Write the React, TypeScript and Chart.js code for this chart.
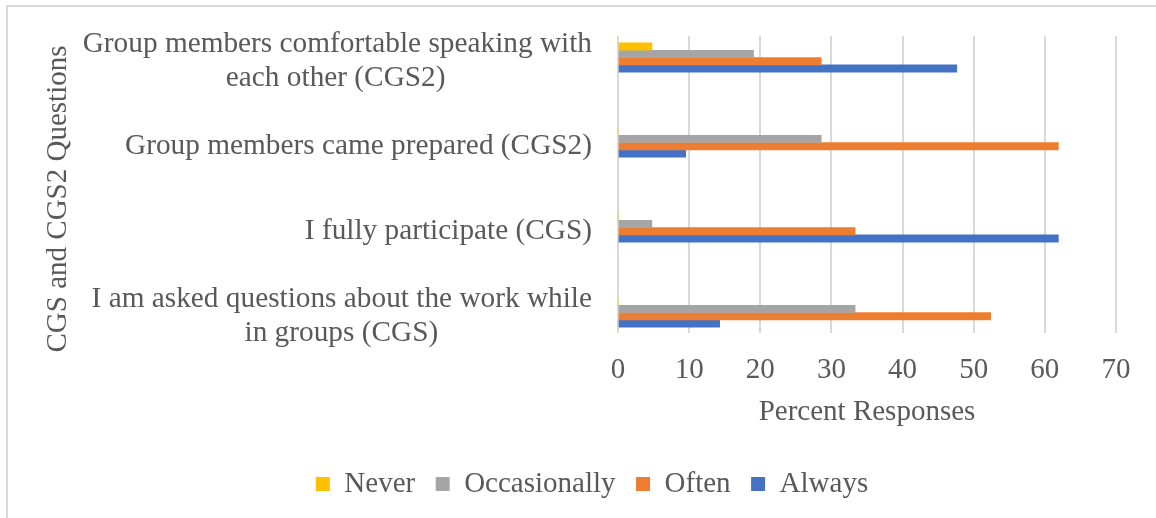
import React, { useEffect, useRef } from "react";
import { Chart, registerables } from "chart.js";

Chart.register(...registerables);

// ---- data ----
const CATEGORIES: string[][] = [
  ["Group members comfortable speaking with", "each other (CGS2)"],
  ["Group members came prepared (CGS2)"],
  ["I fully participate (CGS)"],
  ["I am asked questions about the work while", "in groups (CGS)"],
];
const SERIES_NAMES = ["Never", "Occasionally", "Often", "Always"];
const NEVER = [4.76, 0, 0, 0];
const OCCASIONALLY = [19.05, 28.57, 4.76, 33.33];
const OFTEN = [28.57, 61.9, 33.33, 52.38];
const ALWAYS = [47.62, 9.52, 61.9, 14.29];
const X_TICKS = [0, 10, 20, 30, 40, 50, 60, 70];
const X_TITLE = "Percent Responses";
const Y_TITLE = "CGS and CGS2 Questions";

// ---- styles ----
const COLORS = ["#FFC000", "#A5A5A5", "#ED7D31", "#4472C4"];
const TEXT = "#595959";
const GRID = "#D9D9D9";
const FAMILY = '"Liberation Serif", "Times New Roman", serif';
const FS = 29;
const FS_Y = 29.3;

function centerLines(lines: string[]): string[] {
  if (lines.length < 2) return lines;
  const ctx = document.createElement("canvas").getContext("2d");
  if (!ctx) return lines;
  ctx.font = `${FS_Y}px ${FAMILY}`;
  const widths = lines.map((l) => ctx.measureText(l).width);
  const maxW = Math.max(...widths);
  const sp = ctx.measureText(" ").width || 7;
  return lines.map(
    (l, i) => l + " ".repeat(Math.max(0, Math.round((maxW - widths[i]) / 2 / sp)))
  );
}

const legendShift = {
  id: "legendShift",
  afterLayout(chart: any) {
    const l = chart.legend;
    if (l) {
      l.left += 34;
      l.right += 34;
    }
  },
};

export default function App() {
  const ref = useRef<HTMLCanvasElement | null>(null);

  useEffect(() => {
    if (!ref.current) return;
    const labels = CATEGORIES.map((c) => centerLines(c));
    const seriesValues = [NEVER, OCCASIONALLY, OFTEN, ALWAYS];
    const font = { family: FAMILY, size: FS };

    const chart = new Chart(ref.current, {
      type: "bar",
      data: {
        datasets: SERIES_NAMES.map((name, si) => ({
          label: name,
          data: seriesValues[si].map((v, i) => ({ x: v, y: i })),
          backgroundColor: COLORS[si],
          borderWidth: 0,
          barThickness: 7.3,
        })),
      },
      options: {
        indexAxis: "y",
        animation: false,
        responsive: false,
        devicePixelRatio: 1,
        layout: { padding: { top: 36, right: 40, bottom: 9.5, left: 0 } },
        plugins: {
          tooltip: { enabled: false },
          legend: {
            position: "bottom",
            labels: {
              font,
              color: TEXT,
              boxWidth: 14,
              boxHeight: 14,
              padding: 20.5,
            },
          },
        },
        scales: {
          x: {
            type: "linear",
            min: 0,
            max: 70,
            afterBuildTicks: (s: any) => {
              s.ticks = X_TICKS.map((v) => ({ value: v }));
            },
            ticks: { font, color: TEXT, padding: 20 },
            grid: { color: GRID, lineWidth: 2, drawTicks: false },
            border: { display: false },
            title: {
              display: true,
              text: X_TITLE,
              font,
              color: TEXT,
              padding: { top: 0, bottom: 19 },
            },
            afterFit: (s: any) => {
              s.height = 116;
              s.paddingLeft = 0;
              s.paddingRight = 0;
            },
          },
          y: {
            type: "linear",
            offset: false,
            reverse: true,
            min: -0.253,
            max: 3.241,
            afterBuildTicks: (s: any) => {
              s.ticks = CATEGORIES.map((_, i) => ({ value: i }));
            },
            ticks: {
              autoSkip: false,
              font: { family: FAMILY, size: FS_Y, lineHeight: 1.15 },
              color: TEXT,
              padding: 26,
              labelOffset: 4,
              callback: (v: any) => labels[Math.round(Number(v))] || "",
            },
            grid: { display: false, drawTicks: false, offset: false },
            border: { display: false },
            title: {
              display: true,
              text: Y_TITLE + "    ",
              font,
              color: TEXT,
              padding: { top: 40.6, bottom: 0 },
            },
            afterFit: (s: any) => {
              s.width = 618;
              s.paddingTop = 0;
              s.paddingBottom = 0;
            },
          },
        },
      } as any,
      plugins: [legendShift],
    });
    return () => chart.destroy();
  }, []);

  return (
    <div
      style={{
        position: "fixed",
        left: 0,
        top: 0,
        width: 1156,
        height: 518,
        overflow: "hidden",
        background: "#fff",
      }}
    >
      <div
        style={{
          position: "absolute",
          left: 6,
          top: 5,
          width: 1200,
          height: 600,
          border: `2px solid ${GRID}`,
        }}
      />
      <canvas
        ref={ref}
        width={1156}
        height={518}
        style={{ position: "absolute", left: 0, top: 0, width: 1156, height: 518 }}
      />
    </div>
  );
}
